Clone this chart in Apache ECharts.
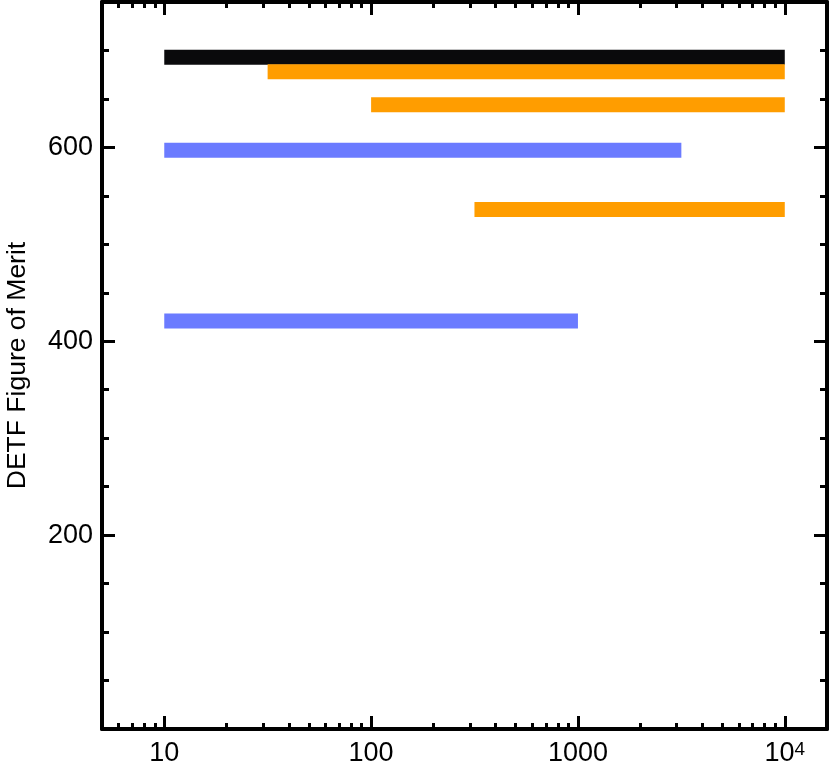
<!DOCTYPE html>
<html>
<head>
<meta charset="utf-8">
<script src="https://cdn.jsdelivr.net/npm/echarts@6/dist/echarts.min.js"></script>
<style>
html,body{margin:0;padding:0;background:#fff;}
#c{width:830px;height:772px;}
</style>
</head>
<body>
<div id="c"></div>
<script>
// ---- data ----
var barStart = [10, 31.6, 100, 10, 316, 10];
var barEnd   = [10000, 10000, 10000, 3162, 10000, 1000];
var barFoM   = [693, 678, 644, 597, 536, 421];
var barGroup = ['black', 'orange', 'orange', 'blue', 'orange', 'blue'];

var xMajorTicks = [10, 100, 1000, 10000];
var xMinorTicks = [6, 7, 8, 9, 20, 30, 40, 50, 60, 70, 80, 90,
                   200, 300, 400, 500, 600, 700, 800, 900,
                   2000, 3000, 4000, 5000, 6000, 7000, 8000, 9000];
var yMajorTicks = [200, 400, 600];
var yLabel = 'DETF Figure of Merit';

// ---- styles ----
var colorMap = { black: '#0a0a0c', orange: '#ff9d00', blue: '#6b7bff' };
var FONT = 'Liberation Sans, Arial, Helvetica, sans-serif';

function xAxisDef(position, major, withLabels) {
  return {
    type: 'log', logBase: 10, min: 5, max: 16000, position: position,
    axisLine: { show: !major, onZero: false, lineStyle: { color: '#000', width: 4 } },
    axisTick: { show: true, inside: true, length: major ? 13 : 6,
      customValues: major ? xMajorTicks : xMinorTicks,
      lineStyle: { color: '#000', width: 3 } },
    minorTick: { show: false },
    splitLine: { show: false },
    axisLabel: {
      show: withLabels, customValues: xMajorTicks, margin: 11,
      color: '#000', fontFamily: FONT,
      formatter: function (v) {
        if (Math.abs(v - 10000) < 1) return '{b|10}{s|4}';
        return '{b|' + Math.round(v) + '}';
      },
      rich: {
        b: { fontSize: 27, fontFamily: FONT, color: '#000' },
        s: { fontSize: 19, fontFamily: FONT, color: '#000', verticalAlign: 'top', lineHeight: 15 }
      }
    }
  };
}

function yAxisDef(position, major, withLabels) {
  var d = {
    type: 'value', min: 0, max: 750, interval: 50, position: position,
    axisLine: { show: !major, onZero: false, lineStyle: { color: '#000', width: 4 } },
    axisTick: { show: true, inside: true, length: major ? 13 : 7,
      lineStyle: { color: '#000', width: 3 } },
    splitLine: { show: false },
    axisLabel: {
      show: withLabels, customValues: yMajorTicks, margin: 9,
      color: '#000', fontSize: 27, fontFamily: FONT
    }
  };
  if (major) d.axisTick.customValues = yMajorTicks;
  if (withLabels) {
    d.name = yLabel;
    d.nameLocation = 'middle';
    d.nameGap = 71;
    d.nameTextStyle = { fontSize: 26.5, fontFamily: FONT, color: '#000' };
  }
  return d;
}

var series = barFoM.map(function (f, i) {
  return {
    type: 'line', xAxisIndex: 0, yAxisIndex: 0,
    data: [[barStart[i], f], [barEnd[i], f]],
    symbol: 'none', silent: true, z: 3,
    lineStyle: { color: colorMap[barGroup[i]], width: 15, cap: 'butt' }
  };
});

var chart = echarts.init(document.getElementById('c'), null, { renderer: 'canvas' });
chart.setOption({
  animation: false,
  backgroundColor: '#fff',
  grid: { left: 102, right: 3, top: 2, bottom: 43, containLabel: false, outerBoundsMode: 'none' },
  xAxis: [
    xAxisDef('bottom', false, true),
    xAxisDef('bottom', true, false),
    xAxisDef('top', false, false),
    xAxisDef('top', true, false)
  ],
  yAxis: [
    yAxisDef('left', false, true),
    yAxisDef('left', true, false),
    yAxisDef('right', false, false),
    yAxisDef('right', true, false)
  ],
  series: series
});
</script>
</body>
</html>
